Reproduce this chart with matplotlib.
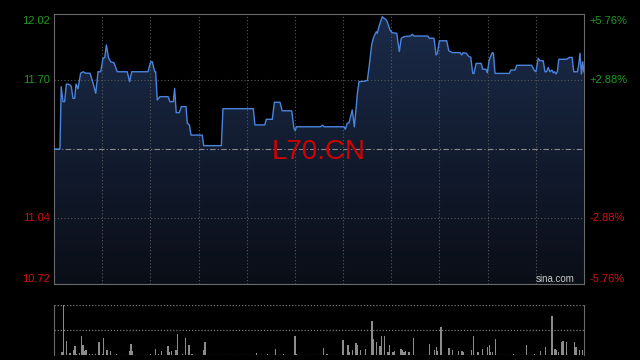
import numpy as np
import matplotlib
matplotlib.use("Agg")
from matplotlib import pyplot as plt
from matplotlib.colors import LinearSegmentedColormap

# intraday price, minutes since open / price
minutes = [0, 3.7, 4.5, 5.6, 6.6, 7.7, 9.8, 10.8, 11.8, 12.9, 13.7, 14.9, 16.6, 18.2, 19.7,
           22.4, 24.1, 26.0, 27.4, 29.1, 30.5, 31.6, 32.6, 33.9, 35.3, 37.4, 39.4, 45.6, 47.1,
           48.4, 58.5, 60.2, 61.2, 62.7, 63.3, 64.3, 66.0, 71.0, 72.2, 74.3, 75.1, 76.1, 78.0,
           79.3, 82.2, 83.0, 84.3, 85.3, 92.3, 93.2, 104.2, 105.2, 124.1, 125.1, 131.2, 132.2,
           135.9, 137.2, 140.7, 142.1, 148.0, 149.4, 150.2, 150.9, 166.0, 167.3, 168.1, 180.6,
           181.4, 182.6, 183.7, 185.7, 187.0, 188.2, 188.9, 189.9, 193.0, 195.1, 196.2, 197.8,
           198.8, 199.7, 200.7, 201.3, 202.3, 204.4, 205.5, 206.5, 207.5, 209.2, 210.6, 213.4,
           215.0, 216.2, 217.9, 222.1, 223.1, 224.1, 232.8, 233.7, 236.6, 237.9, 238.7, 239.9,
           244.5, 245.8, 247.0, 248.0, 252.8, 253.9, 254.8, 256.7, 258.4, 259.5, 260.7, 261.5,
           262.8, 266.0, 266.9, 269.0, 269.8, 271.0, 272.9, 273.6, 274.6, 283.5, 284.4, 287.0,
           288.1, 297.4, 298.9, 300.1, 301.5, 302.6, 304.6, 305.7, 306.7, 307.7, 308.8, 310.0,
           310.9, 311.7, 312.6, 313.4, 314.3, 319.2, 320.9, 322.6, 323.6, 325.9, 326.7, 327.5,
           328.4, 329.2, 329.9]
prices = [11.37, 11.37, 11.67, 11.598, 11.598, 11.683, 11.68, 11.67, 11.614, 11.614, 11.683,
          11.66, 11.735, 11.742, 11.735, 11.735, 11.694, 11.638, 11.742, 11.742, 11.807, 11.81,
          11.871, 11.81, 11.79, 11.785, 11.742, 11.742, 11.694, 11.742, 11.742, 11.79, 11.79,
          11.742, 11.742, 11.606, 11.622, 11.622, 11.598, 11.598, 11.662, 11.545, 11.545,
          11.574, 11.574, 11.494, 11.486, 11.437, 11.437, 11.386, 11.386, 11.564, 11.564,
          11.486, 11.486, 11.513, 11.513, 11.595, 11.595, 11.554, 11.554, 11.47, 11.458,
          11.477, 11.477, 11.485, 11.477, 11.477, 11.465, 11.494, 11.496, 11.558, 11.477,
          11.574, 11.638, 11.694, 11.696, 11.70, 11.766, 11.871, 11.903, 11.92, 11.935,
          11.927, 11.959, 12.007, 11.999, 11.995, 11.983, 11.943, 11.93, 11.927, 11.839,
          11.903, 11.911, 11.914, 11.923, 11.914, 11.914, 11.903, 11.903, 11.823, 11.83,
          11.891, 11.891, 11.843, 11.838, 11.834, 11.834, 11.823, 11.834, 11.831, 11.815,
          11.812, 11.734, 11.734, 11.782, 11.782, 11.754, 11.754, 11.737, 11.799, 11.834,
          11.831, 11.734, 11.734, 11.75, 11.75, 11.773, 11.773, 11.75, 11.742, 11.807,
          11.795, 11.795, 11.742, 11.742, 11.763, 11.742, 11.75, 11.737, 11.742, 11.731,
          11.742, 11.802, 11.802, 11.811, 11.811, 11.742, 11.742, 11.775, 11.831, 11.731,
          11.79, 11.742]

# volume bars (relative units, panel top = 100)
vol_minutes = [5, 6, 8, 10, 12, 13, 14, 16, 17, 18, 19, 20, 22, 24, 26, 28, 30, 31, 33, 35,
               39, 47, 48, 49, 60, 63, 65, 67, 71, 72, 73, 76, 77, 80, 82, 84, 86, 93, 94,
               126, 133, 138, 143, 150, 151, 168, 170, 180, 183, 184, 186, 188, 189, 191,
               194, 198, 199, 201, 203, 204, 206, 208, 209, 211, 212, 216, 217, 218, 219,
               221, 224, 234, 237, 238, 239, 241, 246, 248, 252, 254, 255, 260, 261, 264,
               267, 270, 271, 272, 273, 275, 286, 294, 299, 303, 306, 310, 312, 313, 314,
               316, 317, 319, 324, 325, 327, 329]
volumes = [5, 100, 27, 3, 9, 17, 2, 3, 37, 19, 7, 10, 2, 2, 2, 25, 2, 33, 9, 7,
           2, 7, 21, 7, 2, 11, 2, 7, 17, 5, 7, 9, 41, 2, 33, 19, 2, 9, 25,
           4, 2, 11, 2, 37, 2, 13, 2, 29, 19, 5, 9, 23, 19, 9,
           11, 67, 31, 25, 17, 37, 37, 5, 19, 5, 7, 11, 9, 5, 7,
           5, 33, 21, 9, 15, 7, 55, 13, 9, 7, 7, 5, 9, 37, 5,
           11, 15, 19, 5, 5, 31, 2, 19, 2, 7, 15, 77, 11, 9, 5,
           25, 27, 25, 25, 15, 9, 9]

prev_close = 11.37
y_ticks = [12.02, 11.70, 11.04, 10.72]
y_labels = ["12.02", "11.70", "11.04", "10.72"]
pct_labels = ["+5.76%", "+2.88%", "-2.88%", "-5.76%"]
tick_colors = ["#1f9a1f", "#1f9a1f", "#d01010", "#d01010"]

x_max = 330
grid_c = "#5a5a5a"

fig = plt.figure(figsize=(6.4, 3.6), dpi=100, facecolor="black")
ax = fig.add_axes([54/640, 1-284/360, 530/640, 270/360], facecolor="black")
ax.set_xlim(0, x_max)
ax.set_ylim(10.72, 12.02)

# gradient under the line
cmap = LinearSegmentedColormap.from_list("fill", ["#0a0e17", "#1b2b4a"])
grad = np.linspace(0, 1, 256).reshape(-1, 1)
img = ax.imshow(grad, cmap=cmap, aspect="auto", origin="lower",
                extent=[0, x_max, 10.72, 12.02], zorder=1)
poly = ax.fill_between(minutes, prices, 10.72, color="none", zorder=1)
img.set_clip_path(poly.get_paths()[0], transform=ax.transData)

for t in range(30, x_max, 30):
    ax.axvline(t, color=grid_c, linestyle=(0, (1, 2)), linewidth=0.8, zorder=2)
for yv in [11.70, 11.04]:
    ax.axhline(yv, color=grid_c, linestyle=(0, (1, 2)), linewidth=0.8, zorder=2)
ax.axhline(prev_close, color="#8a8a8a", linestyle=(0, (5, 2, 1, 2)), linewidth=0.8, zorder=2)

ax.plot(minutes, prices, color="#4a84de", linewidth=1.0, zorder=3)

ax.set_xticks([])
ax.set_yticks([])
for s in ax.spines.values():
    s.set_color("#6a6a6a")
    s.set_linewidth(0.8)

# axis labels
vas = ["top", "center", "center", "bottom"]
offs = [-0.008, 0, 0, 0.0]
for yv, lab, pl, c, va, o in zip(y_ticks, y_labels, pct_labels, tick_colors, vas, offs):
    yy = (yv - 10.72) / 1.30
    if va == "top":
        yy = 1.0
    elif va == "bottom":
        yy = 0.0
    ax.text(-0.007, yy + o, lab, transform=ax.transAxes, ha="right", va=va,
            color=c, fontsize=8, family="Liberation Sans")
    ax.text(1.011, yy + o, pl, transform=ax.transAxes, ha="left", va=va,
            color=c, fontsize=8, family="Liberation Sans")

ax.text(0.5, 0.49, "L70.CN", transform=ax.transAxes, ha="center", va="center",
        color="#d40000", fontsize=20, family="Liberation Sans", zorder=4)
ax.text(0.983, 0.0, "sina.com", transform=ax.transAxes, ha="right", va="bottom",
        color="#c8c8c8", fontsize=7, family="Liberation Sans", zorder=4)

# volume panel
vax = fig.add_axes([54/640, 1-354.5/360, 530/640, 50/360], facecolor="black")
vax.set_xlim(0, x_max)
vax.set_ylim(0, 100)
vax.bar(vol_minutes, volumes, width=0.8, color="#8c8c8c", zorder=3)
for yv in [0, 50, 100]:
    vax.axhline(yv, color="#7a7a7a", linestyle=(0, (1, 1.5)), linewidth=0.9, zorder=2)
vax.set_xticks([])
vax.set_yticks([])
for k in ["top", "bottom"]:
    vax.spines[k].set_visible(False)
for k in ["left", "right"]:
    vax.spines[k].set_color("#6a6a6a")
    vax.spines[k].set_linewidth(0.8)

fig.savefig("out.png", dpi=100, facecolor="black")
